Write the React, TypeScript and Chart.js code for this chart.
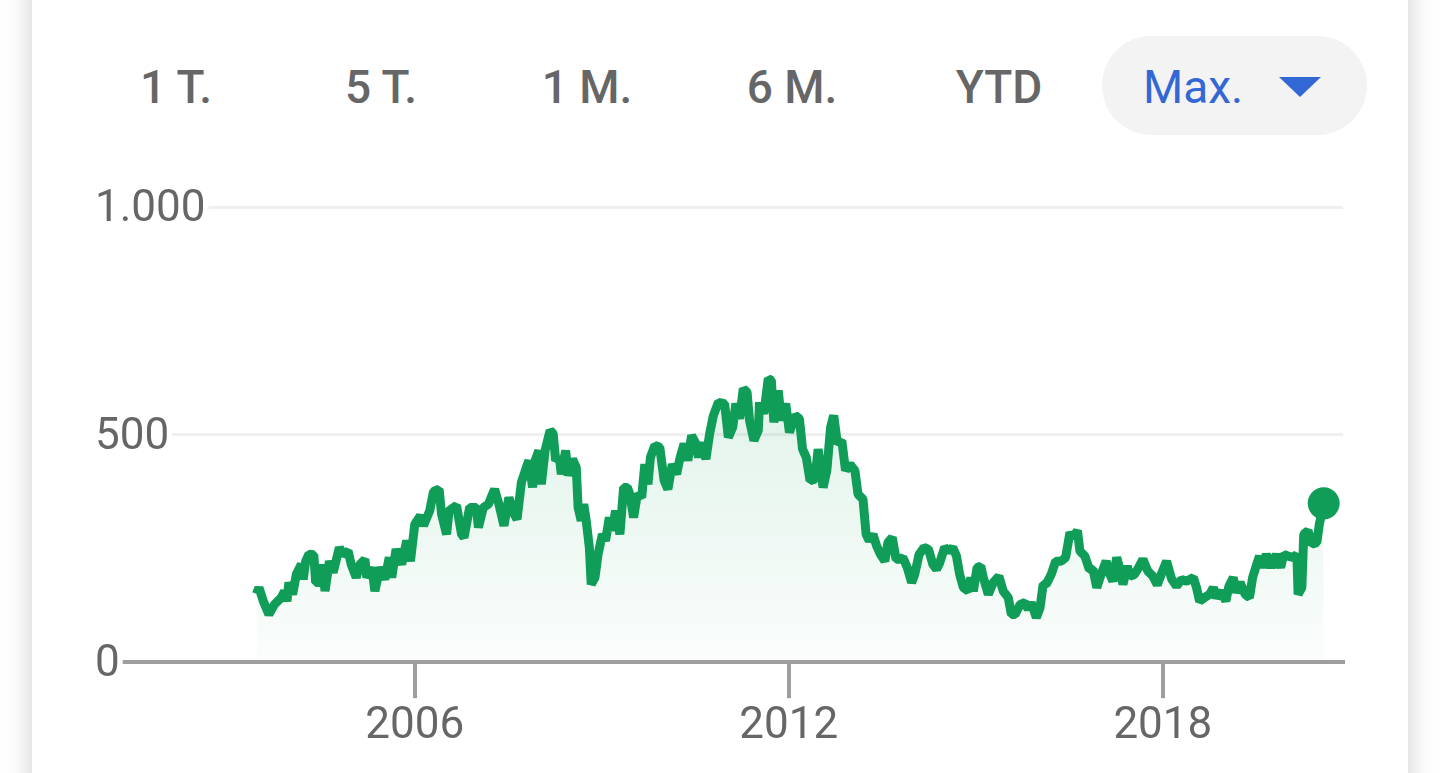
import { useEffect, useRef } from "react"
import { Chart, registerables } from "chart.js"

Chart.register(...registerables)

// decimal years
const dates = [
  2003.46, 2003.5, 2003.57, 2003.66, 2003.75, 2003.86, 2003.91, 2003.95, 2003.98, 2004.04,
  2004.1, 2004.18, 2004.21, 2004.25, 2004.3, 2004.38, 2004.41, 2004.48, 2004.52, 2004.56,
  2004.63, 2004.69, 2004.79, 2004.84, 2004.93, 2004.98, 2005.06, 2005.12, 2005.2, 2005.23,
  2005.31, 2005.36, 2005.44, 2005.52, 2005.59, 2005.63, 2005.7, 2005.79, 2005.87, 2005.93,
  2006.0, 2006.09, 2006.14, 2006.24, 2006.3, 2006.39, 2006.43, 2006.51, 2006.55, 2006.67,
  2006.75, 2006.79, 2006.88, 2006.99, 2007.02, 2007.1, 2007.18, 2007.28, 2007.35, 2007.43,
  2007.51, 2007.58, 2007.64, 2007.71, 2007.79, 2007.83, 2007.89, 2007.93, 2007.99, 2008.03,
  2008.09, 2008.17, 2008.22, 2008.26, 2008.32, 2008.35, 2008.42, 2008.46, 2008.53, 2008.59,
  2008.62, 2008.67, 2008.71, 2008.75, 2008.8, 2008.83, 2008.89, 2008.94, 2009.01, 2009.06,
  2009.12, 2009.17, 2009.22, 2009.29, 2009.35, 2009.41, 2009.45, 2009.51, 2009.57, 2009.64,
  2009.69, 2009.74, 2009.78, 2009.85, 2009.93, 2010.0, 2010.06, 2010.13, 2010.2, 2010.25,
  2010.32, 2010.38, 2010.44, 2010.51, 2010.55, 2010.6, 2010.67, 2010.73, 2010.79, 2010.87,
  2010.97, 2011.03, 2011.1, 2011.15, 2011.21, 2011.27, 2011.33, 2011.37, 2011.44, 2011.51,
  2011.53, 2011.6, 2011.67, 2011.72, 2011.76, 2011.83, 2011.88, 2011.95, 2012.01, 2012.1,
  2012.17, 2012.22, 2012.28, 2012.34, 2012.42, 2012.47, 2012.55, 2012.61, 2012.67, 2012.72,
  2012.78, 2012.85, 2012.91, 2012.98, 2013.06, 2013.11, 2013.19, 2013.24, 2013.29, 2013.35,
  2013.41, 2013.47, 2013.54, 2013.59, 2013.66, 2013.72, 2013.78, 2013.83, 2013.9, 2013.97,
  2014.02, 2014.09, 2014.17, 2014.24, 2014.31, 2014.37, 2014.42, 2014.5, 2014.57, 2014.63,
  2014.69, 2014.74, 2014.8, 2014.88, 2014.92, 2014.96, 2015.02, 2015.08, 2015.12, 2015.2,
  2015.28, 2015.37, 2015.44, 2015.52, 2015.57, 2015.63, 2015.71, 2015.79, 2015.84, 2015.89,
  2015.97, 2016.03, 2016.08, 2016.13, 2016.21, 2016.28, 2016.37, 2016.44, 2016.51, 2016.56,
  2016.63, 2016.67, 2016.75, 2016.82, 2016.88, 2016.94, 2017.0, 2017.09, 2017.15, 2017.2,
  2017.26, 2017.32, 2017.36, 2017.43, 2017.47, 2017.54, 2017.6, 2017.68, 2017.76, 2017.84,
  2017.91, 2017.98, 2018.06, 2018.14, 2018.22, 2018.3, 2018.38, 2018.49, 2018.54, 2018.59,
  2018.67, 2018.75, 2018.81, 2018.86, 2018.94, 2019.01, 2019.06, 2019.13, 2019.17, 2019.24,
  2019.32, 2019.39, 2019.44, 2019.49, 2019.55, 2019.6, 2019.66, 2019.74, 2019.82, 2019.89,
  2019.94, 2020.01, 2020.09, 2020.15, 2020.17, 2020.23, 2020.26, 2020.33, 2020.39, 2020.47,
  2020.51, 2020.56, 2020.58,
]

const prices = [
  150, 164, 134, 105, 127, 142, 156, 134, 175, 149,
  193, 215, 182, 222, 237, 236, 175, 175, 215, 156,
  222, 197, 252, 237, 244, 215, 186, 215, 226, 186,
  208, 156, 208, 182, 230, 186, 248, 215, 267, 222,
  303, 322, 300, 333, 375, 380, 325, 281, 333, 344,
  281, 274, 340, 340, 296, 340, 347, 380, 347, 300,
  362, 329, 314, 395, 428, 443, 384, 443, 465, 391,
  465, 509, 502, 443, 450, 413, 465, 410, 446, 428,
  340, 311, 347, 311, 252, 171, 186, 237, 281, 267,
  318, 289, 333, 281, 384, 384, 369, 318, 369, 362,
  435, 391, 450, 476, 472, 399, 380, 435, 413, 446,
  480, 443, 498, 480, 450, 483, 446, 502, 542, 571,
  568, 494, 516, 568, 535, 601, 593, 531, 487, 509,
  571, 546, 623, 619, 527, 597, 531, 568, 505, 542,
  535, 468, 450, 399, 402, 468, 384, 421, 516, 542,
  480, 487, 421, 435, 421, 369, 358, 281, 267, 281,
  255, 237, 222, 263, 274, 226, 226, 230, 208, 175,
  193, 237, 252, 248, 215, 204, 218, 252, 244, 252,
  233, 193, 164, 156, 186, 156, 208, 211, 186, 149,
  175, 189, 156, 142, 105, 105, 127, 131, 116, 131,
  98, 120, 171, 171, 193, 222, 222, 230, 285, 274,
  289, 244, 233, 204, 204, 164, 189, 222, 193, 178,
  230, 200, 171, 211, 189, 192, 205, 226, 200, 189,
  170, 195, 222, 183, 167, 182, 178, 186, 164, 134,
  142, 149, 164, 142, 156, 134, 167, 186, 153, 175,
  149, 142, 186, 208, 233, 208, 237, 208, 237, 208,
  237, 233, 230, 237, 149, 164, 281, 289, 259, 263,
  303, 333, 349,
]

const yTicks = [0, 500, 1000]
const xTicks = [2006, 2012, 2018]
const ranges = ["1 T.", "5 T.", "1 M.", "6 M.", "YTD"]
const rangeCenters = [176, 381, 587, 792, 999]

const GREEN = "#0f9d58"
const GREY_TEXT = "#666666"

function formatDe(v: number) {
  return String(v).replace(/\B(?=(\d{3})+(?!\d))/g, ".")
}

function PriceChart() {
  const canvasRef = useRef<HTMLCanvasElement>(null)
  const chartRef = useRef<Chart | null>(null)

  useEffect(() => {
    if (!canvasRef.current) return
    if (chartRef.current) chartRef.current.destroy()

    const points = dates.map((d, i) => ({ x: d, y: prices[i] }))
    const last = points.length - 1

    chartRef.current = new Chart(canvasRef.current, {
      type: "line",
      data: {
        datasets: [
          {
            data: points,
            borderColor: GREEN,
            borderWidth: 9,
            borderJoinStyle: "bevel",
            tension: 0,
            fill: "origin",
            backgroundColor: (context: any) => {
              const { chart } = context
              const { ctx, chartArea, scales } = chart
              if (!chartArea) return "rgba(15,157,88,0.06)"
              const top = scales.y.getPixelForValue(Math.max(...prices))
              const bottom = scales.y.getPixelForValue(0)
              const g = ctx.createLinearGradient(0, top, 0, bottom)
              g.addColorStop(0, "rgba(15,157,88,0.13)")
              g.addColorStop(1, "rgba(15,157,88,0.02)")
              return g
            },
            pointRadius: (c: any) => (c.dataIndex === last ? 16 : 0),
            pointBackgroundColor: GREEN,
            pointBorderWidth: 0,
            pointHoverRadius: 0,
          },
        ],
      },
      options: {
        animation: false,
        responsive: true,
        maintainAspectRatio: false,
        events: [],
        layout: { padding: { left: 63, right: 65, top: 47, bottom: 18 } },
        plugins: {
          legend: { display: false },
          tooltip: { enabled: false },
        },
        scales: {
          x: {
            type: "linear",
            min: 2000.87,
            max: 2020.89,
            afterBuildTicks: (axis: any) => {
              axis.ticks = xTicks.map((v) => ({ value: v }))
            },
            grid: {
              drawOnChartArea: false,
              drawTicks: true,
              tickLength: 36,
              color: "#9e9e9e",
              lineWidth: 4,
            },
            border: { display: true, color: "#9e9e9e", width: 4, z: 1 },
            ticks: {
              color: GREY_TEXT,
              font: { family: "Roboto", size: 44 },
              padding: 2,
              maxRotation: 0,
              autoSkip: false,
              callback: (v: any) => String(v),
            },
          },
          y: {
            min: 0,
            max: 1000,
            afterBuildTicks: (axis: any) => {
              axis.ticks = yTicks.map((v) => ({ value: v }))
            },
            grid: { color: "#efefef", lineWidth: 3, drawTicks: false },
            border: { display: false },
            ticks: {
              mirror: true,
              padding: 0,
              z: 2,
              labelOffset: 3,
              showLabelBackdrop: true,
              backdropColor: "#ffffff",
              backdropPadding: { left: 6, right: 3, top: 0, bottom: 0 },
              color: GREY_TEXT,
              font: { family: "Roboto", size: 44 },
              callback: (v: any) => formatDe(Number(v)),
            },
          },
        },
      },
    })

    return () => {
      if (chartRef.current) {
        chartRef.current.destroy()
        chartRef.current = null
      }
    }
  }, [])

  return <canvas ref={canvasRef} />
}

export default function App() {
  return (
    <div
      style={{
        position: "fixed",
        left: 0,
        top: 0,
        width: 1440,
        height: 773,
        overflow: "hidden",
        background: "#ffffff",
        fontFamily: "Roboto, sans-serif",
      }}
    >
      <div
        style={{
          position: "absolute",
          left: 32,
          top: -60,
          width: 1376,
          height: 900,
          background: "#ffffff",
          boxShadow: "0 0 26px rgba(0,0,0,0.2)",
        }}
      />
      {ranges.map((r, i) => (
        <div
          key={r}
          style={{
            position: "absolute",
            left: rangeCenters[i] - 90,
            top: 60,
            width: 180,
            textAlign: "center",
            fontSize: 46,
            lineHeight: "55px",
            fontWeight: 500,
            color: GREY_TEXT,
          }}
        >
          {r}
        </div>
      ))}
      <div
        style={{
          position: "absolute",
          left: 1102,
          top: 36,
          width: 265,
          height: 99,
          borderRadius: 50,
          background: "#f3f3f3",
        }}
      >
        <div
          style={{
            position: "absolute",
            left: 41,
            top: 24,
            fontSize: 46,
            lineHeight: "55px",
            color: "#3367d6",
          }}
        >
          Max.
        </div>
        <div
          style={{
            position: "absolute",
            left: 177,
            top: 41,
            width: 0,
            height: 0,
            borderLeft: "21px solid transparent",
            borderRight: "21px solid transparent",
            borderTop: "20px solid #3367d6",
          }}
        />
      </div>
      <div style={{ position: "absolute", left: 32, top: 160, width: 1376, height: 613 }}>
        <PriceChart />
      </div>
    </div>
  )
}
